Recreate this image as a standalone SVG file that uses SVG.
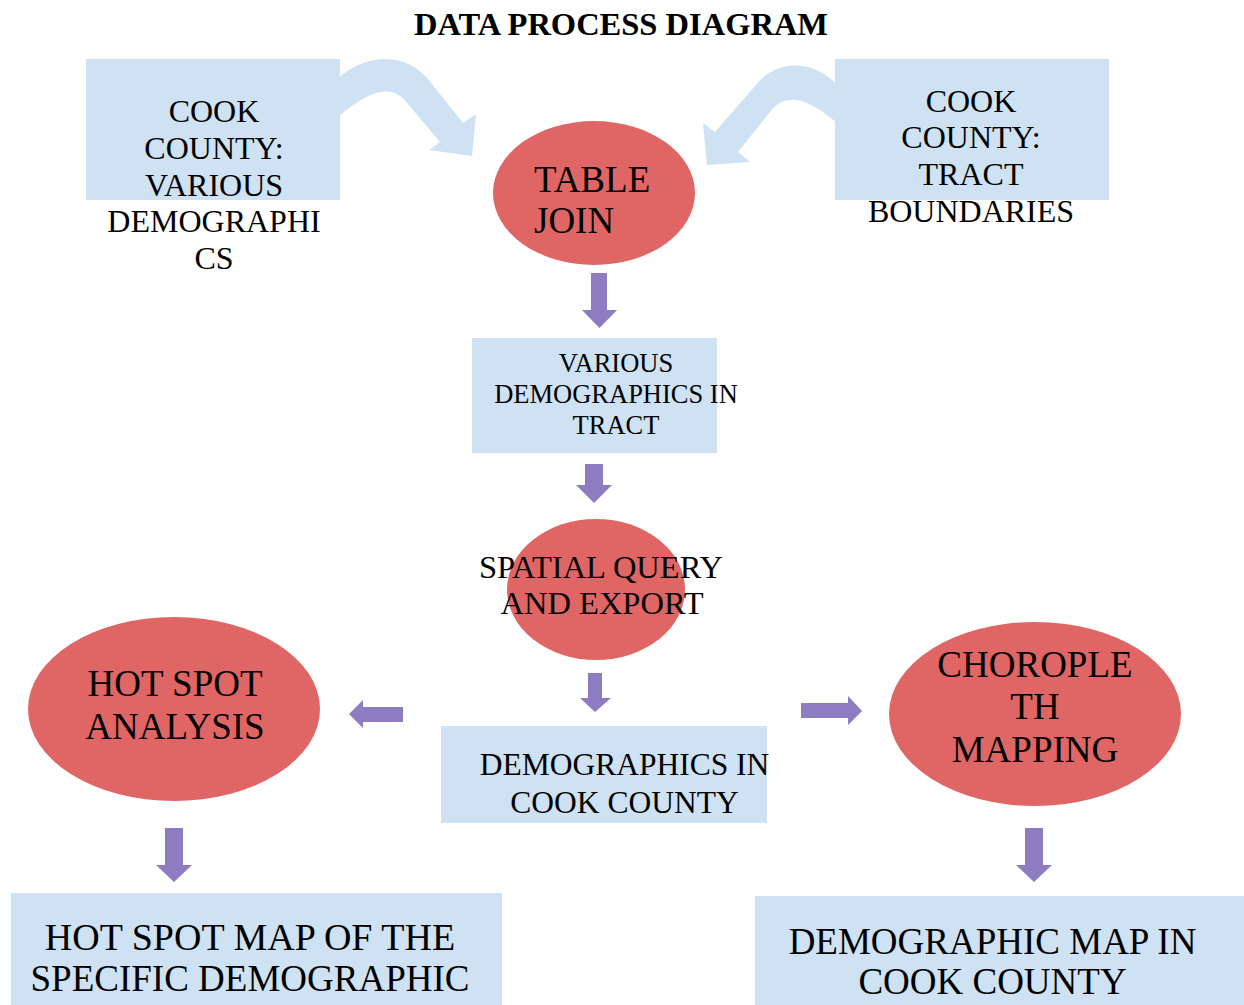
<svg xmlns="http://www.w3.org/2000/svg" width="1244" height="1005" viewBox="0 0 1244 1005">
<style>
.box{fill:#cfe2f3}
.ell{fill:#e06666}
.arr{fill:#8e7cc3}
.curve{fill:#cfe2f3}
text{font-family:"Liberation Serif","Times New Roman",serif;fill:#000;text-anchor:middle}
.t32{font-size:32px}
.t25{font-size:26.5px}
.t30{font-size:31.5px}
.t31{font-size:32.5px}
.t37{font-size:37px}
</style>
<rect width="1244" height="1005" fill="#ffffff"/>
<text x="621" y="35" style="font-size:32.5px;font-weight:bold">DATA PROCESS DIAGRAM</text>

<g id="connectors">
  <path class="curve" d="M338,78 C368,52 410,50 435,88 L463,123 L476,114 L472,156 L429,150 L440,142 L408,104 C393,84 372,88 338,117 Z"/>
  <path class="curve" d="M837,85 C812,58 775,60 755,86 L715,132 L703,123 L707,165 L750,162 L738,152 L770,112 C785,93 805,96 837,123 Z"/>
  <path class="arr" d="M591,273 H607 V310 H617 L599.5,328 L582,310 H591 Z"/>
  <path class="arr" d="M585,464 H603 V485 H612 L594,503 L576,485 H585 Z"/>
  <path class="arr" d="M588,673 H602 V698 H611 L595,712 L580,698 H588 Z"/>
  <path class="arr" d="M403,707 V722 H363 V728 L349,714 L363,700 V707 Z"/>
  <path class="arr" d="M801,703 V718 H848 V725 L862,711 L848,696 V703 Z"/>
  <path class="arr" d="M165,828 H183 V865 H192 L174,882 L156,865 H165 Z"/>
  <path class="arr" d="M1025,828 H1043 V865 H1052 L1034,882 L1016,865 H1025 Z"/>
</g>

<g id="cook-demographics">
  <rect class="box" x="86" y="59" width="254" height="141"/>
  <text class="t32" x="214" y="122">COOK</text>
  <text class="t32" x="214" y="159">COUNTY:</text>
  <text class="t32" x="214" y="196">VARIOUS</text>
  <text class="t32" x="214" y="232">DEMOGRAPHI</text>
  <text class="t32" x="214" y="269">CS</text>
</g>

<g id="cook-tracts">
  <rect class="box" x="835" y="59" width="274" height="141"/>
  <text class="t32" x="971" y="112">COOK</text>
  <text class="t32" x="971" y="148">COUNTY:</text>
  <text class="t32" x="971" y="185">TRACT</text>
  <text class="t32" x="971" y="222">BOUNDARIES</text>
</g>

<g id="table-join">
  <ellipse class="ell" cx="594" cy="193" rx="101" ry="72"/>
  <text x="534" y="192" style="font-size:37px;text-anchor:start">TABLE</text>
  <text x="534" y="233" style="font-size:37px;text-anchor:start">JOIN</text>
</g>

<g id="demographics-tract">
  <rect class="box" x="472" y="338" width="245" height="115"/>
  <text class="t25" x="616" y="372">VARIOUS</text>
  <text class="t25" x="616" y="403">DEMOGRAPHICS IN</text>
  <text class="t25" x="616" y="434">TRACT</text>
</g>

<g id="spatial-query">
  <ellipse class="ell" cx="596" cy="589.5" rx="89" ry="70.5"/>
  <text class="t31" x="601" y="578">SPATIAL QUERY</text>
  <text class="t31" x="602" y="614">AND EXPORT</text>
</g>

<g id="hot-spot-analysis">
  <ellipse class="ell" cx="174" cy="709" rx="146" ry="92"/>
  <text class="t37" x="175" y="696">HOT SPOT</text>
  <text class="t37" x="175" y="739">ANALYSIS</text>
</g>

<g id="demographics-cook">
  <rect class="box" x="441" y="726" width="326" height="97"/>
  <text class="t30" x="624.5" y="775">DEMOGRAPHICS IN</text>
  <text class="t30" x="624.5" y="813">COOK COUNTY</text>
</g>

<g id="choropleth">
  <ellipse class="ell" cx="1035" cy="714" rx="146" ry="92"/>
  <text class="t37" x="1035" y="677">CHOROPLE</text>
  <text class="t37" x="1035" y="719">TH</text>
  <text class="t37" x="1035" y="762">MAPPING</text>
</g>

<g id="hot-spot-map">
  <rect class="box" x="11" y="893" width="491" height="112"/>
  <text class="t37" x="250" y="950" style="font-size:38px">HOT SPOT MAP OF THE</text>
  <text class="t37" x="250" y="991">SPECIFIC DEMOGRAPHIC</text>
</g>

<g id="demographic-map">
  <rect class="box" x="755" y="896" width="489" height="109"/>
  <text class="t37" x="992.5" y="954">DEMOGRAPHIC MAP IN</text>
  <text class="t37" x="992.5" y="994">COOK COUNTY</text>
</g>
</svg>
